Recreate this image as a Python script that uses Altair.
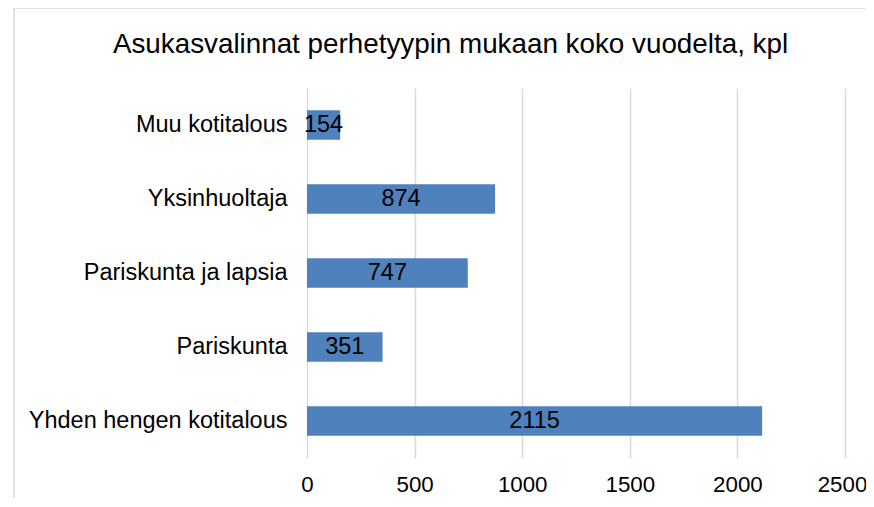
import altair as alt
import pandas as pd

categories = ["Muu kotitalous", "Yksinhuoltaja", "Pariskunta ja lapsia", "Pariskunta", "Yhden hengen kotitalous"]
values = [154, 874, 747, 351, 2115]
ticks = [0, 500, 1000, 1500, 2000, 2500]
title_text = "Asukasvalinnat perhetyypin mukaan koko vuodelta, kpl"

df = pd.DataFrame({"cat": categories, "val": values})
FONT = "Liberation Sans"

base = alt.Chart(df)

y_enc = alt.Y("cat:N", sort=categories, title=None,
              scale=alt.Scale(paddingInner=0.6, paddingOuter=0.3),
              axis=alt.Axis(labelFontSize=23.5, labelColor="#000000", labelFont=FONT,
                            ticks=False, domain=False, labelPadding=20, labelLimit=400))

bars = base.mark_bar(color="#4F81BD").encode(
    x=alt.X("val:Q", title=None,
            scale=alt.Scale(domain=[0, 2500], nice=False),
            axis=alt.Axis(values=ticks, format="d", labelFontSize=22.3,
                          labelColor="#000000", labelFont=FONT, ticks=False, domain=False,
                          gridColor="#D9D9D9", gridWidth=1.5, labelPadding=15, labelFlush=False,
                          labelOffset={"condition": {"test": "datum.value == 2500", "value": -3}, "value": 0})),
    y=y_enc,
)

labels = base.transform_calculate(mid="datum.val / 2").mark_text(
    fontSize=23.5, font=FONT, color="#000000", baseline="middle", align="center"
).encode(
    x=alt.X("mid:Q"),
    y=alt.Y("cat:N", sort=categories),
    text=alt.Text("val:Q", format="d"),
)

deco = pd.DataFrame({"t": [title_text]})

border = alt.Chart(deco).mark_rect(
    fill=None, stroke="#D9D9D9", strokeWidth=1.5, clip=False
).encode(
    x=alt.value(-293), x2=alt.value(700), y=alt.value(-80), y2=alt.value(600)
)

title = alt.Chart(deco).mark_text(
    font=FONT, fontSize=27.8, color="#000000", align="center", baseline="alphabetic"
).encode(
    x=alt.value(143.5), y=alt.value(-35), text="t:N"
)

chart = alt.layer(border, title, bars, labels).properties(
    width=538, height=370,
    autosize=alt.AutoSizeParams(type="none"),
    padding={"left": 299, "top": 80, "right": 21, "bottom": 40},
).configure_view(stroke=None)

chart.save("out.html", embed_options={"renderer": "svg", "actions": False})
